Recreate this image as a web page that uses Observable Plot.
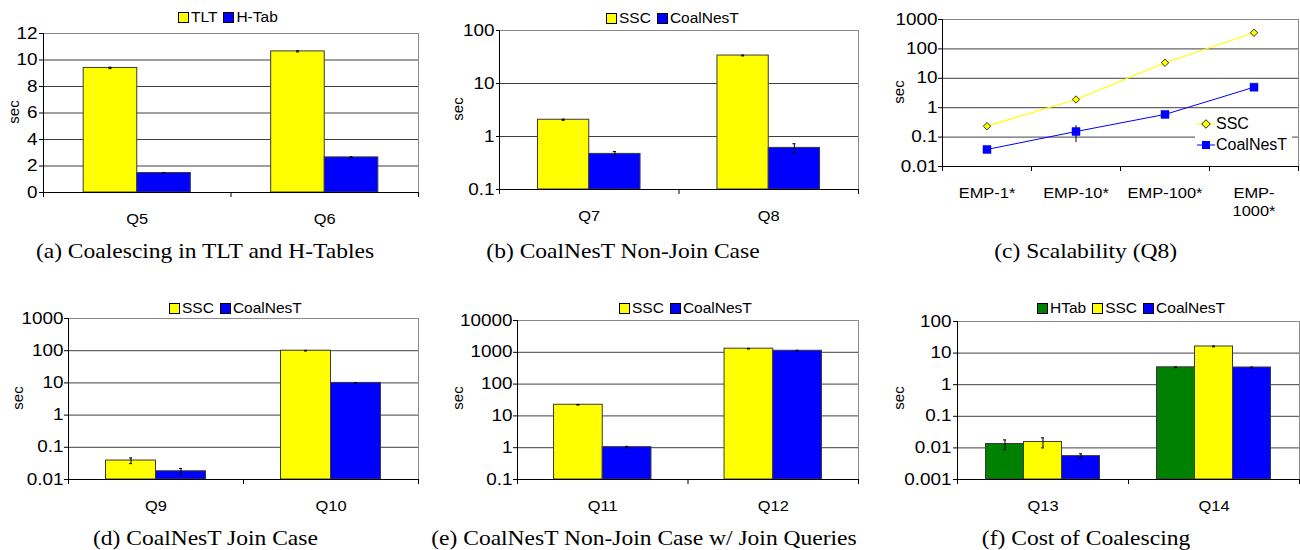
<!DOCTYPE html>
<html><head><meta charset="utf-8">
<script src="https://cdn.jsdelivr.net/npm/d3@7"></script>
<script src="https://cdn.jsdelivr.net/npm/@observablehq/plot@0.6"></script>
<style>
body{margin:0;background:#fff;}
#root{position:relative;width:1300px;height:550px;overflow:hidden;background:#fff;font-family:"Liberation Sans",Arial,sans-serif;color:#000;}
.panel{position:absolute;}
.cap{position:absolute;width:500px;margin-left:-250px;text-align:center;font-family:"Liberation Serif","Times New Roman",serif;font-size:21px;line-height:24px;white-space:nowrap;}
.cap span{display:inline-block;transform:scaleX(1.12);}
.sec{position:absolute;font-size:15px;line-height:15px;white-space:nowrap;transform:translate(-50%,-50%) rotate(-90deg);}
.legend{position:absolute;display:flex;align-items:center;font-size:15.5px;line-height:16px;height:16px;margin-top:-8px;white-space:nowrap;}
.legend .sw{width:9px;height:9px;border:1px solid #000;margin-right:2px;}
.legend .lb{margin-right:6px;}
.clegend{position:absolute;background:#fff;font-size:16px;}
.clegend .row{position:absolute;left:0;height:16px;display:flex;align-items:center;}
.clegend .row span{display:inline-block;margin-left:1px;}
</style></head><body><div id="root"></div>
<script>
// ---------- data ----------
const aCats = ["Q5", "Q6"];
const aSeries = ["TLT", "H-Tab"];
const aTLT = [9.4, 10.65];
const aTLTErr = [0.05, 0.04];
const aHTab = [1.47, 2.65];
const aHTabErr = [0.03, 0.04];
const aTicks = [0, 2, 4, 6, 8, 10, 12];

const bCats = ["Q7", "Q8"];
const bSeries = ["SSC", "CoalNesT"];
const bSSC = [2.07, 33.7];
const bSSCErr = [0.05, 0.6];
const bCoal = [0.47, 0.61];
const bCoalErr = [0.05, 0.12];
const bTicks = [0.1, 1, 10, 100];

const cCats = ["EMP-1*", "EMP-10*", "EMP-100*", "EMP-1000*"];
const cTickLabels = ["EMP-1*", "EMP-10*", "EMP-100*", "EMP-\n1000*"];
const cSeries = ["SSC", "CoalNesT"];
const cSSC = [0.235, 1.9, 33.7, 353];
const cSSCErr = [0.01, 0.05, 0.8, 6];
const cCoal = [0.038, 0.155, 0.59, 4.98];
const cCoalErr = [0.002, 0.09, 0.03, 0.15];
const cTicks = [0.01, 0.1, 1, 10, 100, 1000];

const dCats = ["Q9", "Q10"];
const dSeries = ["SSC", "CoalNesT"];
const dSSC = [0.0388, 100];
const dSSCErr = [0.0077, 2];
const dCoal = [0.018, 10];
const dCoalErr = [0.004, 0.2];
const dTicks = [0.01, 0.1, 1, 10, 100, 1000];

const eCats = ["Q11", "Q12"];
const eSeries = ["SSC", "CoalNesT"];
const eSSC = [22.4, 1300];
const eSSCErr = [0.5, 30];
const eCoal = [1.04, 1120];
const eCoalErr = [0.06, 25];
const eTicks = [0.1, 1, 10, 100, 1000, 10000];

const fCats = ["Q13", "Q14"];
const fSeries = ["HTab", "SSC", "CoalNesT"];
const fHTab = [0.0133, 3.55];
const fHTabErr = [0.0046, 0.1];
const fSSC = [0.0154, 16.2];
const fSSCErr = [0.0054, 0.4];
const fCoal = [0.0055, 3.5];
const fCoalErr = [0.001, 0.1];
const fTicks = [0.001, 0.01, 0.1, 1, 10, 100];

const captions = [
  "(a) Coalescing in TLT and H-Tables",
  "(b) CoalNesT Non-Join Case",
  "(c) Scalability (Q8)",
  "(d) CoalNesT Join Case",
  "(e) CoalNesT Non-Join Case w/ Join Queries",
  "(f) Cost of Coalescing"
];

// ---------- styles ----------
const YELLOW = "#ffff00", BLUE = "#0000ff", GREEN = "#008000";
const NUM_STRETCH = 1.18, CAT_STRETCH = 1.06;
const FONT = "'Liberation Sans', Arial, sans-serif";
const root = document.getElementById("root");

function stretchText(svg) {
  svg.querySelectorAll("text").forEach(t => {
    const tr = t.getAttribute("transform") || "";
    const k = /^[0-9.]+$/.test(t.textContent.trim()) ? NUM_STRETCH : CAT_STRETCH;
    t.setAttribute("transform", tr + ` scale(${k},1)`);
  });
}

function place(el, left, top) {
  const d = document.createElement("div");
  d.className = "panel";
  d.style.left = left + "px";
  d.style.top = top + "px";
  d.appendChild(el);
  root.appendChild(d);
}

function rowsOf(cats, series, values, errs) {
  const n = series.length, w = 1 / (n + 1.5);
  const rows = [];
  cats.forEach((c, i) => series.forEach((s, j) => {
    const x1 = i + 0.75 * w + j * w, v = values[j][i], e = errs[j][i];
    rows.push({cat: c, s, x1, x2: x1 + w, xc: x1 + w / 2, v, lo: v - e, hi: v + e});
  }));
  return rows;
}

function commonMarks(o) {
  const grid = o.ticks.filter(t => t > o.domain[0] && t < o.domain[1]);
  return [
    Plot.ruleY(grid, {stroke: "#404040", strokeWidth: 1}),
    Plot.frame({stroke: "#8a8a8a"})
  ];
}
function axisMarks(o, labels) {
  const n = o.cats.length;
  return [
    Plot.ruleY([o.domain[0]], {stroke: "#000"}),
    Plot.ruleX([0], {stroke: "#000"}),
    Plot.axisX({ticks: d3.range(n + 1), tickSize: 5, tickFormat: () => "", label: null}),
    Plot.axisX({ticks: o.cats.map((c, i) => i + 0.5), tickSize: 0, tickPadding: o.xPad ?? 19,
      tickFormat: d => labels[Math.floor(d)], label: null, lineHeight: 1.15, fontSize: 15.5}),
    Plot.axisY({ticks: o.ticks, tickSize: o.tickSize ?? 4, tickPadding: o.tickPadding ?? 2,
      tickFormat: d => String(d), label: null, fontSize: 16})
  ];
}

function barPanel(o) {
  const rows = rowsOf(o.cats, o.series, o.values, o.errs);
  const base = o.domain[0];
  const svg = Plot.plot({
    width: o.width, height: o.height,
    marginLeft: o.ml, marginRight: o.mr, marginTop: o.mt, marginBottom: o.mb,
    style: {fontFamily: FONT, fontSize: "16px", background: "transparent", overflow: "visible", color: "#000"},
    x: {domain: [0, o.cats.length], label: null},
    y: {type: o.type, domain: o.domain, label: null},
    color: {domain: o.series, range: o.colors},
    marks: [
      ...commonMarks(o),
      Plot.rect(rows, {x1: "x1", x2: "x2", y1: () => base, y2: "v", fill: "s", stroke: "#3a3a3a", strokeWidth: 1}),
      Plot.ruleX(rows, {x: "xc", y1: "lo", y2: "hi", stroke: "#000"}),
      Plot.ruleY(rows, {y: "lo", x1: "xc", x2: "xc", insetLeft: -1.5, insetRight: -1.5, stroke: "#000"}),
      Plot.ruleY(rows, {y: "hi", x1: "xc", x2: "xc", insetLeft: -1.5, insetRight: -1.5, stroke: "#000"}),
      ...axisMarks(o, o.cats)
    ]
  });
  stretchText(svg);
  place(svg, o.left, o.top);
}

function legend(series, colors, left, cy) {
  const d = document.createElement("div");
  d.className = "legend";
  d.style.left = left + "px";
  d.style.top = cy + "px";
  series.forEach((s, i) => {
    const sw = document.createElement("div");
    sw.className = "sw";
    sw.style.background = colors[i];
    const lb = document.createElement("div");
    lb.className = "lb";
    lb.textContent = s;
    d.appendChild(sw); d.appendChild(lb);
  });
  root.appendChild(d);
}

function secLabel(x, y) {
  const d = document.createElement("div");
  d.className = "sec";
  d.style.left = x + "px";
  d.style.top = y + "px";
  d.textContent = "sec";
  root.appendChild(d);
}

function caption(text, cx, cy) {
  const d = document.createElement("div");
  d.className = "cap";
  d.style.left = cx + "px";
  d.style.top = (cy - 12) + "px";
  const s = document.createElement("span");
  s.textContent = text;
  d.appendChild(s);
  root.appendChild(d);
}

// ---------- panel (a) ----------
barPanel({cats: aCats, series: aSeries, colors: [YELLOW, BLUE], values: [aTLT, aHTab], errs: [aTLTErr, aHTabErr],
  type: "linear", domain: [0, 12], ticks: aTicks,
  left: 0, top: 0, width: 430, height: 230, ml: 43, mr: 12, mt: 33, mb: 38, tickSize: 4, tickPadding: 2});
legend(aSeries, [YELLOW, BLUE], 178, 17);
secLabel(13, 112);

// ---------- panel (b) ----------
barPanel({cats: bCats, series: bSeries, colors: [YELLOW, BLUE], values: [bSSC, bCoal], errs: [bSSCErr, bCoalErr],
  type: "log", domain: [0.1, 100], ticks: bTicks,
  left: 430, top: 0, width: 430, height: 230, ml: 69, mr: 2, mt: 30, mb: 41, tickSize: 3, tickPadding: 2});
legend(bSeries, [YELLOW, BLUE], 606, 18);
secLabel(457, 109);

// ---------- panel (c) ----------
{
  const o = {cats: cCats, ticks: cTicks, domain: [0.01, 1000], tickSize: 4, tickPadding: 1, xPad: 19};
  const rows = rowsOf(cCats, cSeries, [cSSC, cCoal], [cSSCErr, cCoalErr]);
  // points sit at category centres
  rows.forEach(r => { r.xc = cCats.indexOf(r.cat) + 0.5; });
  const ssc = rows.filter(r => r.s === "SSC"), coal = rows.filter(r => r.s === "CoalNesT");
  const svg = Plot.plot({
    width: 440, height: 230, marginLeft: 82, marginRight: 2, marginTop: 19, marginBottom: 64,
    style: {fontFamily: FONT, fontSize: "16px", background: "transparent", overflow: "visible", color: "#000"},
    x: {domain: [0, cCats.length], label: null},
    y: {type: "log", domain: o.domain, label: null},
    marks: [
      ...commonMarks(o),
      Plot.line(ssc, {x: "xc", y: "v", stroke: YELLOW, strokeWidth: 1.2}),
      Plot.line(coal, {x: "xc", y: "v", stroke: BLUE, strokeWidth: 1}),
      Plot.ruleX(coal, {x: "xc", y1: "lo", y2: "hi", stroke: "#000"}),
      Plot.ruleX(ssc, {x: "xc", y1: "lo", y2: "hi", stroke: "#000"}),
      Plot.dot(ssc, {x: "xc", y: "v", symbol: "diamond2", r: 3.3, fill: YELLOW, stroke: "#000", strokeWidth: 0.8}),
      Plot.dot(coal, {x: "xc", y: "v", symbol: "square", r: 4.5, fill: BLUE, stroke: BLUE, strokeWidth: 0.5}),
      ...axisMarks(o, cTickLabels)
    ]
  });
  stretchText(svg);
  place(svg, 860, 0);
  secLabel(898, 92);
  // in-plot legend
  const box = document.createElement("div");
  box.className = "clegend";
  Object.assign(box.style, {left: "1195px", top: "113px", width: "97px", height: "44px"});
  const entries = [
    {s: cSeries[0], mk: `<line x1="2" y1="8" x2="20" y2="8" stroke="${YELLOW}" stroke-width="1.2"/><rect x="8" y="5" width="6" height="6" transform="rotate(45 11 8)" fill="${YELLOW}" stroke="#000" stroke-width="0.8"/>`, cy: 11},
    {s: cSeries[1], mk: `<line x1="2" y1="8" x2="20" y2="8" stroke="${BLUE}" stroke-width="1"/><rect x="7" y="4" width="8" height="8" fill="${BLUE}"/>`, cy: 32}
  ];
  entries.forEach(e => {
    const r = document.createElement("div");
    r.className = "row";
    r.style.top = (e.cy - 8) + "px";
    r.innerHTML = `<svg width="20" height="16" viewBox="0 0 20 16">${e.mk}</svg>`;
    const t = document.createElement("span");
    t.textContent = e.s;
    r.appendChild(t);
    box.appendChild(r);
  });
  root.appendChild(box);
}

// ---------- panel (d) ----------
barPanel({cats: dCats, series: dSeries, colors: [YELLOW, BLUE], values: [dSSC, dCoal], errs: [dSSCErr, dCoalErr],
  type: "log", domain: [0.01, 1000], ticks: dTicks,
  left: 0, top: 270, width: 430, height: 250, ml: 68, mr: 12, mt: 48, mb: 41, tickSize: 4, tickPadding: 1});
legend(dSeries, [YELLOW, BLUE], 169, 308);
secLabel(17, 398);

// ---------- panel (e) ----------
barPanel({cats: eCats, series: eSeries, colors: [YELLOW, BLUE], values: [eSSC, eCoal], errs: [eSSCErr, eCoalErr],
  type: "log", domain: [0.1, 10000], ticks: eTicks,
  left: 430, top: 270, width: 430, height: 250, ml: 87, mr: 2, mt: 50, mb: 41, tickSize: 4, tickPadding: 1});
legend(eSeries, [YELLOW, BLUE], 619, 308);
secLabel(457, 398);

// ---------- panel (f) ----------
barPanel({cats: fCats, series: fSeries, colors: [GREEN, YELLOW, BLUE], values: [fHTab, fSSC, fCoal], errs: [fHTabErr, fSSCErr, fCoalErr],
  type: "log", domain: [0.001, 100], ticks: fTicks,
  left: 860, top: 270, width: 440, height: 250, ml: 97, mr: 1, mt: 51, mb: 41, tickSize: 4, tickPadding: 2});
legend(fSeries, [GREEN, YELLOW, BLUE], 1037, 308);
secLabel(898, 398);

// ---------- captions ----------
[[205, 251], [623, 251], [1086, 251], [205, 538], [644, 538], [1086, 538]].forEach((p, i) => caption(captions[i], p[0], p[1]));
</script>
</body></html>
